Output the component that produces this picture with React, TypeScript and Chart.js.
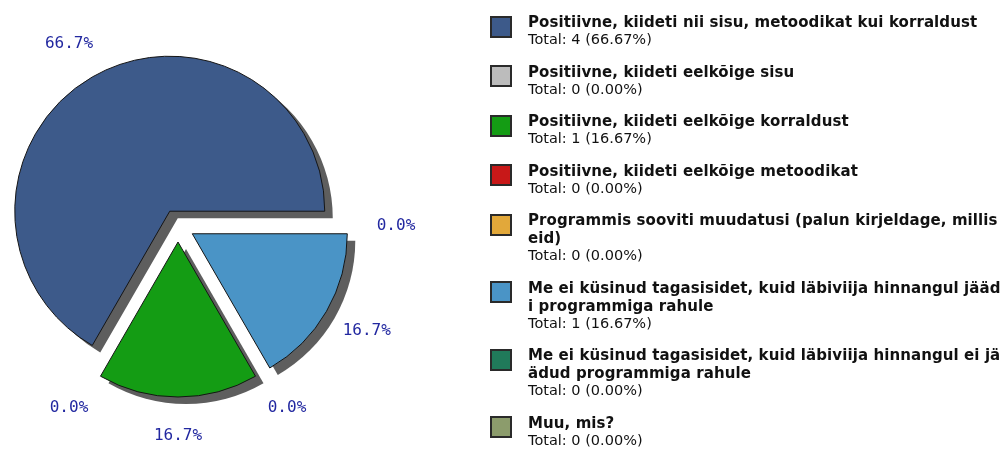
import React, { useEffect, useRef } from "react";
import { Chart, registerables } from "chart.js";

Chart.register(...registerables);

const categories: string[] = [
  "Positiivne, kiideti nii sisu, metoodikat kui korraldust",
  "Positiivne, kiideti eelkõige sisu",
  "Positiivne, kiideti eelkõige korraldust",
  "Positiivne, kiideti eelkõige metoodikat",
  "Programmis sooviti muudatusi (palun kirjeldage, millis eid)",
  "Me ei küsinud tagasisidet, kuid läbiviija hinnangul jäädi programmiga rahule",
  "Me ei küsinud tagasisidet, kuid läbiviija hinnangul ei jäädud programmiga rahule",
  "Muu, mis?",
];

const counts: number[] = [4, 0, 1, 0, 0, 1, 0, 0];

const colors: string[] = [
  "#3d5a8a",
  "#bcbcbc",
  "#149c14",
  "#c81818",
  "#e2a83a",
  "#4a94c6",
  "#207a5a",
  "#8c9c6c",
];

const total = counts.reduce((a, b) => a + b, 0);

// Chart.js draws clockwise; the reference runs counter-clockwise from 3 o'clock,
// so the dataset is fed in reverse order.
const order = counts.map((_, i) => counts.length - 1 - i);

const EXPLODE = 16.5;
const SHADOW_DX = 8;
const SHADOW_DY = 7;
const LABEL_RX = 218;
const LABEL_RY = 210;

const piePlugin = {
  id: "explodedPie",
  beforeDatasetsDraw(chart: any) {
    const { ctx, chartArea } = chart;
    const cx = (chartArea.left + chartArea.right) / 2;
    const cy = (chartArea.top + chartArea.bottom) / 2;
    const meta = chart.getDatasetMeta(0);
    meta.data.forEach((el: any) => {
      const mid = (el.startAngle + el.endAngle) / 2;
      el.x = cx + Math.cos(mid) * EXPLODE;
      el.y = cy + Math.sin(mid) * EXPLODE;
    });
    ctx.save();
    ctx.fillStyle = "#5e5e5e";
    meta.data.forEach((el: any) => {
      if (el.circumference <= 0) return;
      const x = el.x + SHADOW_DX;
      const y = el.y + SHADOW_DY;
      ctx.beginPath();
      ctx.moveTo(x, y);
      ctx.arc(x, y, el.outerRadius, el.startAngle, el.endAngle);
      ctx.closePath();
      ctx.fill();
    });
    ctx.restore();
  },
  afterDatasetsDraw(chart: any) {
    const { ctx, chartArea } = chart;
    const cx = (chartArea.left + chartArea.right) / 2;
    const cy = (chartArea.top + chartArea.bottom) / 2;
    const meta = chart.getDatasetMeta(0);
    const data = chart.data.datasets[0].data as number[];
    ctx.save();
    ctx.font = '16px "DejaVu Sans Mono"';
    ctx.fillStyle = "#2228a0";
    ctx.textAlign = "center";
    ctx.textBaseline = "middle";
    const drawn: { x: number; y: number; t: string }[] = [];
    meta.data.forEach((el: any, i: number) => {
      const mid = (el.startAngle + el.endAngle) / 2;
      const pct = total ? (data[i] / total) * 100 : 0;
      const t = pct.toFixed(1) + "%";
      const x = cx + Math.cos(mid) * LABEL_RX;
      const y = cy + Math.sin(mid) * LABEL_RY;
      if (drawn.some((d) => d.t === t && Math.abs(d.x - x) < 1 && Math.abs(d.y - y) < 1)) return;
      drawn.push({ x, y, t });
      ctx.fillText(t, x, y);
    });
    ctx.restore();
  },
};

export default function App() {
  const canvasRef = useRef<HTMLCanvasElement | null>(null);

  useEffect(() => {
    if (!canvasRef.current) return;
    const chart = new Chart(canvasRef.current, {
      type: "pie",
      data: {
        labels: order.map((i) => categories[i]),
        datasets: [
          {
            data: order.map((i) => counts[i]),
            backgroundColor: order.map((i) => colors[i]),
            borderColor: "#151515",
            borderWidth: 1,
            borderJoinStyle: "miter",
          },
        ],
      },
      options: {
        responsive: false,
        animation: false,
        radius: 155,
        rotation: 90,
        layout: { padding: { left: 0, right: 646, top: 2, bottom: 0 } },
        plugins: {
          legend: { display: false },
          tooltip: { enabled: false },
        },
      } as any,
      plugins: [piePlugin],
    });
    return () => chart.destroy();
  }, []);

  return (
    <div
      style={{
        position: "fixed",
        left: 0,
        top: 0,
        width: 1002,
        height: 449,
        overflow: "hidden",
        background: "#ffffff",
      }}
    >
      <canvas ref={canvasRef} width={1002} height={449} style={{ position: "absolute", left: 0, top: 0 }} />
      <div style={{ position: "absolute", left: 490, top: 13.4, width: 520 }}>
        {categories.map((name, i) => (
          <div key={i} style={{ display: "flex", alignItems: "flex-start", marginBottom: 15.5 }}>
            <div
              style={{
                width: 18,
                height: 18,
                marginTop: 2.6,
                border: "2px solid #2a2a2a",
                background: colors[i],
                flex: "0 0 auto",
              }}
            />
            <div style={{ marginLeft: 16, width: 474, color: "#111" }}>
              <div
                style={{
                  font: 'bold 15px "DejaVu Sans"',
                  lineHeight: "18px",
                  letterSpacing: "0.09px",
                  wordBreak: "break-all",
                }}
              >
                {name}
              </div>
              <div style={{ font: '14.5px "DejaVu Sans"', lineHeight: "16px" }}>
                {"Total: " + counts[i] + " (" + (total ? (counts[i] / total) * 100 : 0).toFixed(2) + "%)"}
              </div>
            </div>
          </div>
        ))}
      </div>
    </div>
  );
}
